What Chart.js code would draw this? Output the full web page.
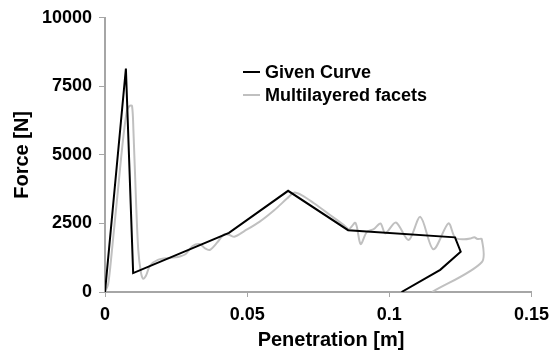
<!DOCTYPE html>
<html>
<head>
<meta charset="utf-8">
<script src="https://cdn.jsdelivr.net/npm/chart.js@4"></script>
<style>
  html, body { margin: 0; padding: 0; background: #fff; }
  #wrap { width: 556px; height: 354px; }
</style>
</head>
<body>
<div id="wrap"><canvas id="forceChart" width="556" height="354"></canvas></div>
<script>
// penetration [m] / force [N]
const givenX = [0, 0.00735, 0.0099, 0.0436, 0.0644, 0.0855, 0.1231, 0.1251, 0.1179, 0.1043];
const givenY = [0, 8150, 690, 2158, 3690, 2255, 1993, 1471, 808, 0];

const facetsX = [0, 0.0002, 0.00105, 0.00175, 0.0028, 0.00455, 0.0063, 0.0077, 0.0086, 0.0095,
    0.0100, 0.0109, 0.0117, 0.0126, 0.0134, 0.0144, 0.0158, 0.0186, 0.0228, 0.0256,
    0.0284, 0.0308, 0.0333, 0.0350, 0.0368, 0.0396, 0.0420, 0.0438, 0.0455, 0.0490,
    0.0543, 0.0595, 0.0641, 0.0665, 0.0693, 0.0735, 0.0788, 0.0840, 0.0858, 0.0881,
    0.0899, 0.0921, 0.0945, 0.0969, 0.0986, 0.1023, 0.1068, 0.1109, 0.1155, 0.1208,
    0.1231, 0.1261, 0.1285, 0.1299, 0.1310, 0.1325, 0.1325, 0.1150];
const facetsY = [0, 50, 264, 808, 1895, 3706, 5518, 6605, 6786, 6786,
    5880, 3344, 1532, 735, 482, 590, 953, 1170, 1243, 1279,
    1388, 1677, 1750, 1605, 1533, 1822, 2112, 2076, 2014, 2221,
    2558, 2982, 3416, 3623, 3525, 3235, 2837, 2438, 2293, 2522,
    1750, 2196, 2293, 2500, 2138, 2536, 1895, 2739, 1558, 2500,
    1985, 1920, 1950, 2000, 1930, 1931, 1087, 0];

const seriesNames = ['Given Curve', 'Multilayered facets'];
const xTicks = [0, 0.05, 0.1, 0.15];
const yTicks = [0, 2500, 5000, 7500, 10000];
const xTitle = 'Penetration [m]';
const yTitle = 'Force [N]';

const toPoints = (xs, ys) => xs.map((x, i) => ({ x: x, y: ys[i] }));

const FONT = 'Liberation Sans, Arial, Helvetica, sans-serif';
const axisGrey = '#a6a6a6';

// legend inside the plot area, and the x title (sits right of centre in the original)
const overlayText = {
    id: 'overlayText',
    afterDraw(chart) {
        const ctx = chart.ctx;
        const rows = [72, 95];
        ctx.save();
        ctx.font = 'bold 18px ' + FONT;
        ctx.textBaseline = 'middle';
        ctx.textAlign = 'left';
        chart.data.datasets.forEach((ds, i) => {
            const y = rows[i];
            ctx.strokeStyle = ds.borderColor;
            ctx.lineWidth = 2;
            ctx.beginPath();
            ctx.moveTo(243, y);
            ctx.lineTo(260, y);
            ctx.stroke();
            ctx.fillStyle = '#000';
            ctx.fillText(ds.label, 265, y + 1);
        });
        ctx.font = 'bold 20px ' + FONT;
        ctx.textAlign = 'center';
        ctx.fillText(xTitle, 331, 340);
        ctx.restore();
    }
};

new Chart(document.getElementById('forceChart'), {
    type: 'scatter',
    data: {
        datasets: [{
            label: seriesNames[0],
            data: toPoints(givenX, givenY),
            showLine: true,
            borderColor: '#000000',
            borderWidth: 2,
            pointRadius: 0,
            tension: 0
        }, {
            label: seriesNames[1],
            data: toPoints(facetsX, facetsY),
            showLine: true,
            borderColor: '#c0c0c0',
            borderWidth: 2,
            pointRadius: 0,
            tension: 0.3
        }]
    },
    options: {
        responsive: false,
        animation: false,
        layout: { padding: { top: 16, right: 23, bottom: 0, left: 0 } },
        plugins: {
            legend: { display: false },
            tooltip: { enabled: false }
        },
        scales: {
            x: {
                type: 'linear',
                min: 0,
                max: 0.15,
                afterFit: (scale) => { scale.height = 62; },
                afterBuildTicks: (scale) => { scale.ticks = xTicks.map((v) => ({ value: v })); },
                border: { color: axisGrey, width: 2 },
                grid: { drawOnChartArea: false, drawTicks: true, tickLength: 5, color: axisGrey, lineWidth: 1 },
                ticks: {
                    color: '#000',
                    padding: 7,
                    font: { family: FONT, size: 18, weight: 'bold' },
                    callback: (v) => String(+v.toFixed(2))
                },
                title: { display: false }
            },
            y: {
                type: 'linear',
                min: 0,
                max: 10000,
                afterFit: (scale) => { scale.width = 105; },
                afterBuildTicks: (scale) => { scale.ticks = yTicks.map((v) => ({ value: v })); },
                border: { color: axisGrey, width: 2 },
                grid: { drawOnChartArea: false, drawTicks: true, tickLength: 6, color: axisGrey, lineWidth: 1 },
                ticks: {
                    color: '#000',
                    padding: 7,
                    font: { family: FONT, size: 18, weight: 'bold' },
                    callback: (v) => String(v)
                },
                title: {
                    display: true,
                    text: yTitle,
                    color: '#000',
                    font: { family: FONT, size: 20, weight: 'bold' },
                    padding: { top: 10, bottom: 0 }
                }
            }
        }
    },
    plugins: [overlayText]
});
</script>
</body>
</html>
